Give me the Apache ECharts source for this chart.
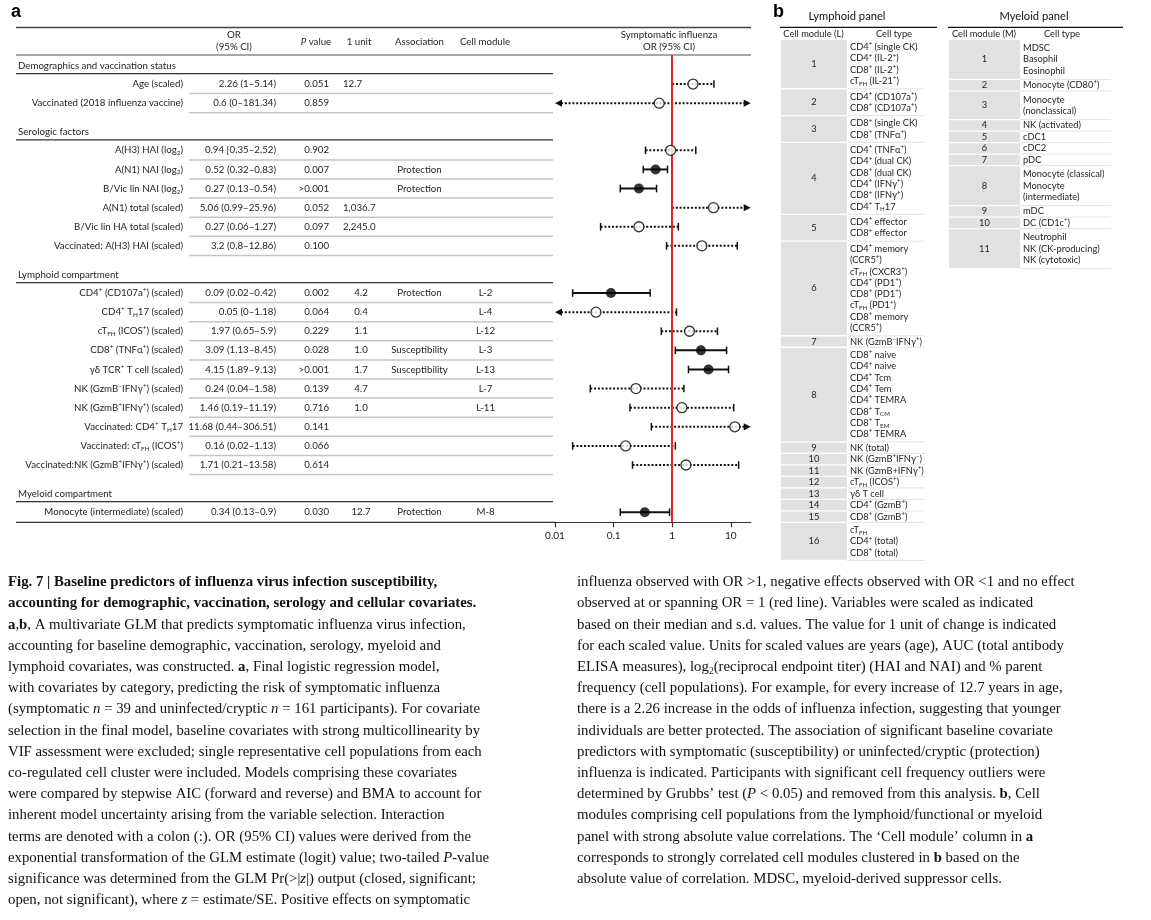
<!DOCTYPE html>
<html><head><meta charset="utf-8">
<script src="https://cdn.jsdelivr.net/npm/echarts@6/dist/echarts.min.js"></script>
<style>html,body{margin:0;padding:0;background:#fff}#c{width:1151px;height:920px}</style>
</head><body><div id="c"></div>
<script>
// ---------------- DATA ----------------
const sectionNames = ["Demographics and vaccination status", "Serologic factors", "Lymphoid compartment", "Myeloid compartment"];
const sectionSizes = [2, 6, 10, 1];
const rowLabels = [
  "Age (scaled)",
  "Vaccinated (2018 influenza vaccine)",
  "A(H3) HAI (log_{2})",
  "A(N1) NAI (log_{2})",
  "B/Vic lin NAI (log_{2})",
  "A(N1) total (scaled)",
  "B/Vic lin HA total (scaled)",
  "Vaccinated: A(H3) HAI (scaled)",
  "CD4^{+} (CD107a^{+}) (scaled)",
  "CD4^{+} T_{H}17 (scaled)",
  "cT_{FH} (ICOS^{+}) (scaled)",
  "CD8^{+} (TNFα^{+}) (scaled)",
  "γδ TCR^{+} T cell (scaled)",
  "NK (GzmB^{−}IFNγ^{+}) (scaled)",
  "NK (GzmB^{+}IFNγ^{+}) (scaled)",
  "Vaccinated: CD4^{+} T_{H}17",
  "Vaccinated: cT_{FH} (ICOS^{+})",
  "Vaccinated:NK (GzmB^{+}IFNγ^{+}) (scaled)",
  "Monocyte (intermediate) (scaled)"
];
const orValue = [2.26, 0.6, 0.94, 0.52, 0.27, 5.06, 0.27, 3.2, 0.09, 0.05, 1.97, 3.09, 4.15, 0.24, 1.46, 11.68, 0.16, 1.71, 0.34];
const ciLow   = [1, 0, 0.35, 0.32, 0.13, 0.99, 0.06, 0.8, 0.02, 0, 0.65, 1.13, 1.89, 0.04, 0.19, 0.44, 0.02, 0.21, 0.13];
const ciHigh  = [5.14, 181.34, 2.52, 0.83, 0.54, 25.96, 1.27, 12.86, 0.42, 1.18, 5.9, 8.45, 9.13, 1.58, 11.19, 306.51, 1.13, 13.58, 0.9];
const ciText = ["2.26 (1–5.14)", "0.6 (0–181.34)", "0.94 [0.35–2.52)", "0.52 (0.32–0.83)", "0.27 (0.13–0.54)",
  "5.06 (0.99–25.96)", "0.27 (0.06–1.27)", "3.2 (0.8–12.86)", "0.09 (0.02–0.42)", "0.05 (0–1.18)",
  "1.97 (0.65–5.9)", "3.09 (1.13–8.45)", "4.15 (1.89–9.13)", "0.24 (0.04–1.58)", "1.46 (0.19–11.19)",
  "11.68 (0.44–306.51)", "0.16 (0.02–1.13)", "1.71 (0.21–13.58)", "0.34 (0.13–0.9)"];
const pValues = ["0.051", "0.859", "0.902", "0.007", ">0.001", "0.052", "0.097", "0.100", "0.002", "0.064",
  "0.229", "0.028", ">0.001", "0.139", "0.716", "0.141", "0.066", "0.614", "0.030"];
const oneUnit = ["12.7", "", "", "", "", "1,036.7", "2,245.0", "", "4.2", "0.4", "1.1", "1.0", "1.7", "4.7", "1.0", "", "", "", "12.7"];
const association = ["", "", "", "Protection", "Protection", "", "", "", "Protection", "", "", "Susceptibility",
  "Susceptibility", "", "", "", "", "", "Protection"];
const cellModule = ["", "", "", "", "", "", "", "", "L-2", "L-4", "L-12", "L-3", "L-13", "L-7", "L-11", "", "", "", "M-8"];
const significant = [0, 0, 0, 1, 1, 0, 0, 0, 1, 0, 0, 1, 1, 0, 0, 0, 0, 0, 1];
const xTickValues = [0.01, 0.1, 1, 10];
const headerLabels = ["OR", "(95% CI)", "{i|P}{n| value}", "1 unit", "Association", "Cell module", "Symptomatic influenza", "OR (95% CI)"];

const lymphoidCells = [
  ["CD4^{+} (single CK)", "CD4^{+} (IL-2^{+})", "CD8^{+} (IL-2^{+})", "cT_{FH} (IL-21^{+})"],
  ["CD4^{+} (CD107a^{+})", "CD8^{+} (CD107a^{+})"],
  ["CD8^{+} (single CK)", "CD8^{+} (TNFα^{+})"],
  ["CD4^{+} (TNFα^{+})", "CD4^{+} (dual CK)", "CD8^{+} (dual CK)", "CD4^{+} (IFNγ^{+})", "CD8^{+} (IFNγ^{+})", "CD4^{+} T_{H}17"],
  ["CD4^{+} effector", "CD8^{+} effector"],
  ["CD4^{+} memory", "(CCR5^{+})", "cT_{FH} (CXCR3^{+})", "CD4^{+} (PD1^{+})", "CD8^{+} (PD1^{+})", "cT_{FH} (PD1^{+})", "CD8^{+} memory", "(CCR5^{+})"],
  ["NK (GzmB^{−}IFNγ^{+})"],
  ["CD8^{+} naive", "CD4^{+} naive", "CD4^{+} Tcm", "CD4^{+} Tem", "CD4^{+} TEMRA", "CD8^{+} T_{CM}", "CD8^{+} T_{EM}", "CD8^{+} TEMRA"],
  ["NK (total)"],
  ["NK (GzmB^{+}IFNγ^{−})"],
  ["NK (GzmB+IFNγ^{+})"],
  ["cT_{FH} (ICOS^{+})"],
  ["γδ T cell"],
  ["CD4^{+} (GzmB^{+})"],
  ["CD8^{+} (GzmB^{+})"],
  ["cT_{FH}", "CD4^{+} (total)", "CD8^{+} (total)"]
];
const myeloidCells = [
  ["MDSC", "Basophil", "Eosinophil"],
  ["Monocyte (CD80^{+})"],
  ["Monocyte", "(nonclassical)"],
  ["NK (activated)"],
  ["cDC1"],
  ["cDC2"],
  ["pDC"],
  ["Monocyte (classical)", "Monocyte", "(intermediate)"],
  ["mDC"],
  ["DC (CD1c^{+})"],
  ["Neutrophil", "NK (CK-producing)", "NK (cytotoxic)"]
];

const captionLeft = [
  "{b|Fig. 7 | Baseline predictors of influenza virus infection susceptibility,}",
  "{b|accounting for demographic, vaccination, serology and cellular covariates.}",
  "{b|a},{b|b}, A multivariate GLM that predicts symptomatic influenza virus infection,",
  "accounting for baseline demographic, vaccination, serology, myeloid and",
  "lymphoid covariates, was constructed. {b|a}, Final logistic regression model,",
  "with covariates by category, predicting the risk of symptomatic influenza",
  "(symptomatic {i|n} = 39 and uninfected/cryptic {i|n} = 161 participants). For covariate",
  "selection in the final model, baseline covariates with strong multicollinearity by",
  "VIF assessment were excluded; single representative cell populations from each",
  "co-regulated cell cluster were included. Models comprising these covariates",
  "were compared by stepwise AIC (forward and reverse) and BMA to account for",
  "inherent model uncertainty arising from the variable selection. Interaction",
  "terms are denoted with a colon (:). OR (95% CI) values were derived from the",
  "exponential transformation of the GLM estimate (logit) value; two-tailed {i|P}-value",
  "significance was determined from the GLM Pr(>|{i|z}|) output (closed, significant;",
  "open, not significant), where {i|z} = estimate/SE. Positive effects on symptomatic"
];
const captionRight = [
  "influenza observed with OR >1, negative effects observed with OR <1 and no effect",
  "observed at or spanning OR = 1 (red line). Variables were scaled as indicated",
  "based on their median and s.d. values. The value for 1 unit of change is indicated",
  "for each scaled value. Units for scaled values are years (age), AUC (total antibody",
  "ELISA measures), log{sub|2}(reciprocal endpoint titer) (HAI and NAI) and % parent",
  "frequency (cell populations). For example, for every increase of 12.7 years in age,",
  "there is a 2.26 increase in the odds of influenza infection, suggesting that younger",
  "individuals are better protected. The association of significant baseline covariate",
  "predictors with symptomatic (susceptibility) or uninfected/cryptic (protection)",
  "influenza is indicated. Participants with significant cell frequency outliers were",
  "determined by Grubbs’ test ({i|P} < 0.05) and removed from this analysis. {b|b}, Cell",
  "modules comprising cell populations from the lymphoid/functional or myeloid",
  "panel with strong absolute value correlations. The ‘Cell module’ column in {b|a}",
  "corresponds to strongly correlated cell modules clustered in {b|b} based on the",
  "absolute value of correlation. MDSC, myeloid-derived suppressor cells."
];

// ---------------- LAYOUT ----------------
const F = 'Lato, "Liberation Sans", sans-serif';
const CF = '"Liberation Serif", serif';
const X_MIN = 0.01, X_MAX = 21.8;
const SECTION_GAP = 1.47;
const rowY = [], rowSection = [], sectionStartY = [];
(function () {
  let pos = 0;
  sectionSizes.forEach((n, s) => {
    sectionStartY.push(pos);
    for (let k = 0; k < n; k++) { rowY.push(pos); rowSection.push(s); pos += 1; }
    pos += SECTION_GAP;
  });
})();
const Y_MIN = -1.52, Y_MAX = rowY[rowY.length - 1] + 0.53;

function toRich(str, base) {
  let out = '', last = 0, m;
  const re = /(\^|_)\{([^}]*)\}/g;
  while ((m = re.exec(str))) {
    if (m.index > last) out += '{' + base + '|' + str.slice(last, m.index) + '}';
    out += '{' + (m[1] === '^' ? 'sup' : 'sub') + '|' + m[2] + '}';
    last = re.lastIndex;
  }
  if (last < str.length) out += '{' + base + '|' + str.slice(last) + '}';
  return out;
}
function mkRich(size, lh, color) {
  const s = size * 0.66;
  return {
    n: { fontFamily: F, fontSize: size, lineHeight: lh, fill: color },
    i: { fontFamily: F, fontSize: size, lineHeight: lh, fontStyle: 'italic', fill: color },
    sup: { fontFamily: F, fontSize: s, lineHeight: s + 0.5, verticalAlign: 'top', fill: color },
    sub: { fontFamily: F, fontSize: s, lineHeight: s + 0.5, verticalAlign: 'bottom', fill: color }
  };
}
const TXT = '#1e1e1e';
const tableRich = mkRich(9.7, 12, TXT);
const panelRich = mkRich(9.3, 11.5, TXT);

function txt(text, x, y, align, richStyles, extra) {
  return Object.assign({
    type: 'text', x: x, y: y, silent: true,
    style: { text: text, rich: richStyles, align: align, textAlign: align, verticalAlign: 'middle', textVerticalAlign: 'middle',
      fontFamily: F, fontSize: 10, fill: TXT }
  }, extra || {});
}
function hline(x1, x2, y, color, w) {
  return { type: 'line', silent: true, shape: { x1: x1, y1: y, x2: x2, y2: y }, style: { stroke: color, lineWidth: w } };
}

const COL = { label: 183, ci: 276, p: 329, unitL: 343, unitC: 361, assoc: 419.5, module: 485.5 };

function renderTable(params, api) {
  const i = params.dataIndex;
  const y = api.coord([1, rowY[i]])[1];
  const ch = [];
  ch.push(txt(toRich(rowLabels[i], 'n'), COL.label, y, 'right', tableRich));
  ch.push(txt(toRich(ciText[i], 'n'), COL.ci, y, 'right', tableRich));
  ch.push(txt(toRich(pValues[i], 'n'), COL.p, y, 'right', tableRich));
  if (oneUnit[i]) {
    const leftAl = rowSection[i] < 2;
    ch.push(txt(toRich(oneUnit[i], 'n'), leftAl ? COL.unitL : COL.unitC, y, leftAl ? 'left' : 'center', tableRich));
  }
  if (association[i]) ch.push(txt(toRich(association[i], 'n'), COL.assoc, y, 'center', tableRich));
  if (cellModule[i]) ch.push(txt(toRich(cellModule[i], 'n'), COL.module, y, 'center', tableRich));
  if (i < rowLabels.length - 1) {
    const ys = api.coord([1, rowY[i] + 0.5])[1];
    ch.push(hline(189, 553, ys, '#c6c6c6', 1.5));
  } else {
    const yb = api.coord([1, Y_MAX])[1];
    ch.push(hline(16, 556, yb, '#333', 1.2));
  }
  return { type: 'group', children: ch };
}
function renderSection(params, api) {
  const s = params.dataIndex;
  const yT = api.coord([1, sectionStartY[s] - 0.96])[1];
  const yR = api.coord([1, sectionStartY[s] - 0.55])[1];
  return { type: 'group', children: [
    txt(toRich(sectionNames[s], 'n'), 18, yT, 'left', tableRich),
    hline(16, 553, yR, '#333', 1.2)
  ] };
}
function renderCI(params, api) {
  const i = params.dataIndex;
  const lo = ciLow[i], hi = ciHigh[i];
  const arrowL = lo < X_MIN, arrowR = hi > X_MAX;
  const a = api.coord([Math.max(lo, X_MIN), rowY[i]]);
  const b = api.coord([Math.min(hi, X_MAX), rowY[i]]);
  const y = a[1];
  const sig = significant[i];
  const AW = 7, AH = 3.6, CAP = 3.8, C = '#111';
  const x1 = arrowL ? a[0] + AW - 1 : a[0];
  const x2 = arrowR ? b[0] - AW + 1 : b[0];
  const lineStyle = { stroke: C, lineWidth: 2 };
  if (!sig) lineStyle.lineDash = [2, 1.8];
  const ch = [{ type: 'line', shape: { x1: x1, y1: y, x2: x2, y2: y }, style: lineStyle }];
  if (arrowL) ch.push({ type: 'polygon', shape: { points: [[a[0], y], [a[0] + AW, y - AH], [a[0] + AW, y + AH]] }, style: { fill: C } });
  else ch.push({ type: 'line', shape: { x1: a[0], y1: y - CAP, x2: a[0], y2: y + CAP }, style: { stroke: C, lineWidth: 1.5 } });
  if (arrowR) ch.push({ type: 'polygon', shape: { points: [[b[0], y], [b[0] - AW, y - AH], [b[0] - AW, y + AH]] }, style: { fill: C } });
  else ch.push({ type: 'line', shape: { x1: b[0], y1: y - CAP, x2: b[0], y2: y + CAP }, style: { stroke: C, lineWidth: 1.5 } });
  return { type: 'group', children: ch };
}

// ---------------- STATIC GRAPHICS ----------------
const graphics = [];
graphics.push({ type: 'text', x: 11, y: 12, silent: true, style: { text: 'a', fontFamily: '"Liberation Sans", sans-serif', fontWeight: 'bold', fontSize: 18, fill: '#000', align: 'left', verticalAlign: 'middle', textAlign: 'left', textVerticalAlign: 'middle' } });
graphics.push({ type: 'text', x: 773, y: 12, silent: true, style: { text: 'b', fontFamily: '"Liberation Sans", sans-serif', fontWeight: 'bold', fontSize: 18, fill: '#000', align: 'left', verticalAlign: 'middle', textAlign: 'left', textVerticalAlign: 'middle' } });
// table header
graphics.push(hline(16, 751, 27.5, '#444', 1.5));
graphics.push(hline(16, 751, 55, '#8a8a8a', 1.6));
graphics.push(txt(toRich(headerLabels[0], 'n'), 234, 35, 'center', tableRich));
graphics.push(txt(toRich(headerLabels[1], 'n'), 234, 47, 'center', tableRich));
graphics.push(txt(headerLabels[2], 316, 41.5, 'center', tableRich));
graphics.push(txt(toRich(headerLabels[3], 'n'), 359, 41.5, 'center', tableRich));
graphics.push(txt(toRich(headerLabels[4], 'n'), 419.5, 41.5, 'center', tableRich));
graphics.push(txt(toRich(headerLabels[5], 'n'), 485, 41.5, 'center', tableRich));
graphics.push(txt(toRich(headerLabels[6], 'n'), 669, 35, 'center', tableRich));
graphics.push(txt(toRich(headerLabels[7], 'n'), 669, 47, 'center', tableRich));

// panel b
function buildPanel(title, colHead, cells, o) {
  graphics.push(txt('{t|' + title + '}', o.titleX, 16, 'center', { t: { fontFamily: F, fontSize: 11.2, fill: '#111' } }));
  graphics.push(hline(o.left, o.right, 27.3, '#111', 1.2));
  graphics.push(txt(toRich(colHead, 'n'), (o.left + o.grayR) / 2, 33.5, 'center', panelRich));
  graphics.push(txt(toRich('Cell type', 'n'), o.typeX, 33.5, 'center', panelRich));
  let y = 40;
  cells.forEach((lines, m) => {
    const n = lines.length;
    const h = n * o.L + o.p + (n > 1 ? o.q : 0);
    graphics.push({ type: 'rect', silent: true, shape: { x: o.grayL, y: y, width: o.grayR - o.grayL, height: h - 1.3 }, style: { fill: '#e1e1e1' } });
    const mid = y + (h - 1.3) / 2;
    graphics.push(txt(toRich(String(m + 1), 'n'), (o.grayL + o.grayR) / 2, mid, 'center', panelRich));
    const top = mid - n * o.L / 2;
    lines.forEach((t, k) => graphics.push(txt(toRich(t, 'n'), o.textX, top + (k + 0.5) * o.L, 'left', panelRich)));
    graphics.push(hline(o.grayR, o.right - 12, y + h - 0.6, '#dcdcdc', 0.8));
    y += h;
  });
}
buildPanel('Lymphoid panel', 'Cell module (L)', lymphoidCells,
  { titleX: 847, left: 780, right: 937, grayL: 781, grayR: 847, textX: 850, typeX: 894, L: 11.3, p: 0.2, q: 4 });
buildPanel('Myeloid panel', 'Cell module (M)', myeloidCells,
  { titleX: 1034, left: 948, right: 1123, grayL: 949, grayR: 1020, textX: 1023, typeX: 1062, L: 11.3, p: 0.2, q: 5.9 });

// caption
const CS = 14.8;
const capRich = {
  b: { fontFamily: CF, fontSize: CS, fontWeight: 'bold', lineHeight: 18, fill: '#111' },
  i: { fontFamily: CF, fontSize: CS, fontStyle: 'italic', lineHeight: 18, fill: '#111' },
  sub: { fontFamily: CF, fontSize: 9.5, lineHeight: 10, verticalAlign: 'bottom', fill: '#111' }
};
function capLine(t, x, y) {
  return { type: 'text', x: x, y: y, silent: true,
    style: { text: t, rich: capRich, fontFamily: CF, fontSize: CS, lineHeight: 18, fill: '#111',
      align: 'left', verticalAlign: 'middle', textAlign: 'left', textVerticalAlign: 'middle' } };
}
captionLeft.forEach((t, k) => graphics.push(capLine(t, 8, 582.3 + k * 21.2)));
captionRight.forEach((t, k) => graphics.push(capLine(t, 577, 582.3 + k * 21.2)));

// ---------------- CHART ----------------
const chart = echarts.init(document.getElementById('c'), null, { renderer: 'canvas' });
chart.setOption({
  animation: false,
  backgroundColor: '#fff',
  grid: { left: 555, right: 400.3, top: 55, bottom: 397.7, containLabel: false },
  xAxis: {
    type: 'log', logBase: 10, min: X_MIN, max: X_MAX, position: 'bottom',
    axisLine: { show: true, onZero: false, lineStyle: { color: '#333', width: 1.2 } },
    axisTick: { show: true, length: 5, customValues: xTickValues, lineStyle: { color: '#333', width: 1.2 } },
    axisLabel: { customValues: xTickValues, fontFamily: F, fontSize: 10, color: '#222', margin: 8,
      formatter: v => String(v) },
    splitLine: { show: false }, minorTick: { show: false }
  },
  yAxis: { type: 'value', show: false, inverse: true, min: Y_MIN, max: Y_MAX, splitLine: { show: false } },
  graphic: { elements: graphics },
  series: [
    { type: 'custom', name: 'table', silent: true, clip: false, z: 1, renderItem: renderTable,
      encode: { x: 0, y: 1 }, data: rowY.map(v => [1, v]) },
    { type: 'custom', name: 'sections', silent: true, clip: false, z: 1, renderItem: renderSection,
      encode: { x: 0, y: 1 }, data: sectionStartY.map(v => [1, v]) },
    { type: 'custom', name: 'ci', silent: true, clip: false, z: 2, renderItem: renderCI,
      encode: { x: 0, y: 1 }, data: rowY.map((v, i) => [orValue[i], v]) },
    { type: 'scatter', name: 'OR', silent: true, z: 10, symbol: 'circle', symbolSize: 10,
      data: rowY.map((v, i) => ({ value: [orValue[i], v],
        itemStyle: significant[i] ? { color: '#000', borderColor: '#000', borderWidth: 0 } : { color: '#fff', borderColor: '#000', borderWidth: 1.3 } })),
      markLine: { silent: true, symbol: ['none', 'none'], label: { show: false }, z: 5,
        lineStyle: { color: '#e3262b', width: 2, type: 'solid' }, emphasis: { disabled: true },
        data: [{ xAxis: 1 }] } }
  ]
});
</script></body></html>
